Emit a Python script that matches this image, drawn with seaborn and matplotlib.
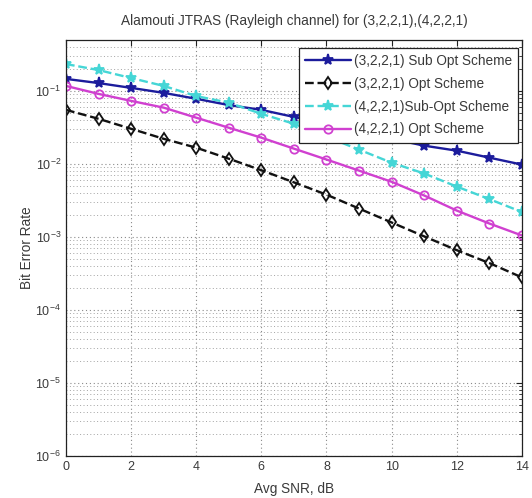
import numpy as np
import pandas as pd
import matplotlib
matplotlib.use("Agg")
import matplotlib.pyplot as plt
import seaborn as sns
from matplotlib.ticker import LogLocator, NullFormatter, FixedLocator

# Average SNR (dB)
snr_db = [0, 1, 2, 3, 4, 5, 6, 7, 8, 9, 10, 11, 12, 13, 14]

# Bit error rate per scheme
ber_321_subopt = [0.146, 0.128, 0.110, 0.094, 0.078, 0.064, 0.055, 0.044,
                  0.035, 0.0276, 0.0221, 0.0178, 0.0152, 0.0122, 0.0098]
ber_321_opt = [0.055, 0.0415, 0.0303, 0.0221, 0.0167, 0.0118, 0.0082, 0.0056,
               0.0038, 0.00245, 0.00158, 0.00102, 0.00066, 0.00044, 0.00028]
ber_421_subopt = [0.233, 0.193, 0.150, 0.117, 0.085, 0.069, 0.0485, 0.0355,
                  0.0236, 0.0157, 0.0104, 0.0074, 0.0049, 0.0033, 0.0022]
ber_421_opt = [0.117, 0.091, 0.073, 0.059, 0.043, 0.0313, 0.0229, 0.0162,
               0.0115, 0.0081, 0.0057, 0.0037, 0.0023, 0.00153, 0.00105]

labels = ["(3,2,2,1) Sub Opt Scheme", "(3,2,2,1) Opt Scheme",
          "(4,2,2,1)Sub-Opt Scheme", "(4,2,2,1) Opt Scheme"]

sns.set_style("white")
plt.rcParams["font.family"] = ["Liberation Sans", "DejaVu Sans"]
plt.rcParams["mathtext.fontset"] = "custom"
plt.rcParams["mathtext.rm"] = "Liberation Sans"
plt.rcParams["mathtext.it"] = "Liberation Sans"

text_col = "#3a3a3a"
fs = 9.8

fig = plt.figure(figsize=(5.32, 4.98), dpi=100)
ax = fig.add_axes([0.124, 0.084, 0.857, 0.836])

styles = [
    dict(color="#1c1c9c", marker="*", linestyle="-", markersize=8,
         markerfacecolor="#1c1c9c", markeredgecolor="#1c1c9c"),
    dict(color="#111111", marker="d", linestyle="--", markersize=6.5,
         markerfacecolor="none", markeredgecolor="#111111"),
    dict(color="#45d6d6", marker="*", linestyle="--", markersize=8,
         markerfacecolor="#45d6d6", markeredgecolor="#45d6d6"),
    dict(color="#d040d0", marker="o", linestyle="-", markersize=6,
         markerfacecolor="none", markeredgecolor="#d040d0"),
]
series = [ber_321_subopt, ber_321_opt, ber_421_subopt, ber_421_opt]

for vals, lab, st in zip(series, labels, styles):
    sns.lineplot(x=snr_db, y=vals, ax=ax, label=lab, linewidth=1.7,
                 markeredgewidth=1.3, **st)

ax.set_yscale("log")
ax.set_xlim(0, 14)
ax.set_ylim(1e-6, 0.5)
ax.xaxis.set_major_locator(FixedLocator([0, 2, 4, 6, 8, 10, 12, 14]))
ax.yaxis.set_major_locator(LogLocator(base=10, numticks=10))
ax.yaxis.set_minor_locator(LogLocator(base=10, subs=np.arange(2, 10), numticks=20))
ax.yaxis.set_minor_formatter(NullFormatter())

ax.grid(True, which="major", axis="both", linestyle=(0, (1, 2.5)),
        color="#8a8a8a", linewidth=0.8)
ax.grid(True, which="minor", axis="y", linestyle=(0, (1, 2.5)),
        color="#a2a2a2", linewidth=0.7)

ax.tick_params(which="both", direction="in", top=True, right=True,
               labelsize=9, colors=text_col)
ax.tick_params(which="major", length=4.5, color="#222222")
ax.tick_params(which="minor", length=2.5, color="#222222")
for sp in ax.spines.values():
    sp.set_color("#222222")
    sp.set_linewidth(0.9)

ax.set_xlabel("Avg SNR, dB", fontsize=fs, color=text_col, labelpad=6.5)
ax.set_ylabel("Bit Error Rate", fontsize=fs, color=text_col, labelpad=1)
ax.set_title("Alamouti JTRAS (Rayleigh channel) for (3,2,2,1),(4,2,2,1)",
             fontsize=fs, color=text_col, pad=10.5)

leg = ax.legend(loc="upper right", bbox_to_anchor=(0.991, 0.981), fontsize=fs,
                frameon=True, fancybox=False, framealpha=1, edgecolor="#222222",
                handlelength=3.4, handletextpad=0.15, labelspacing=0.65,
                borderpad=0.45, borderaxespad=0)
leg.get_frame().set_linewidth(0.9)
for t in leg.get_texts():
    t.set_color(text_col)

fig.savefig("out.png", dpi=100)
